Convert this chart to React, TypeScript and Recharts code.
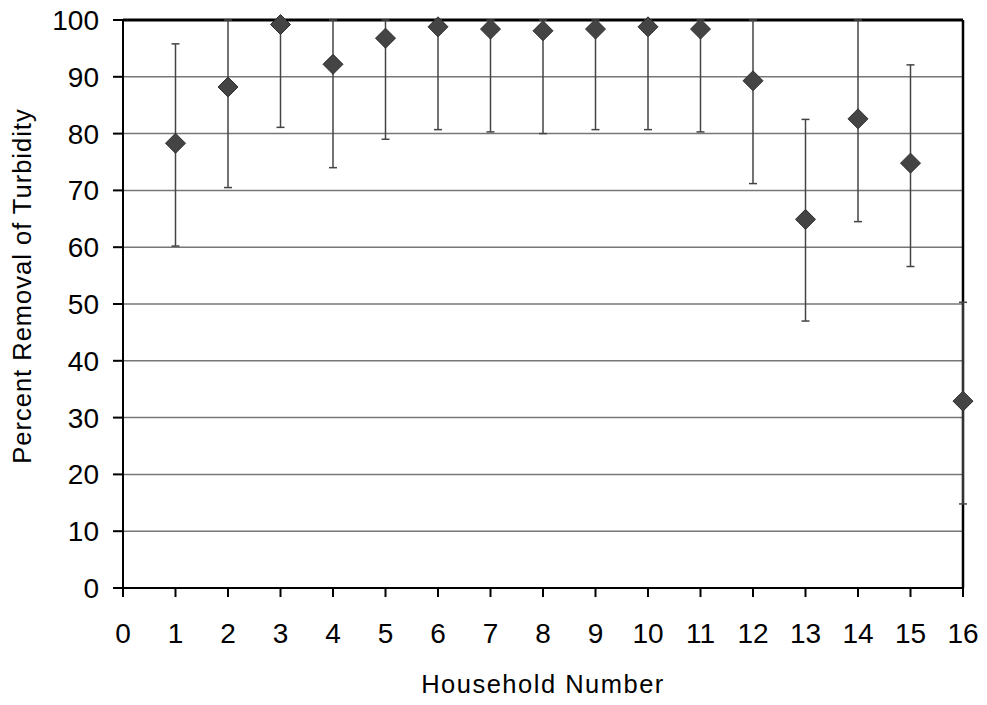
import { CartesianGrid, ErrorBar, ReferenceLine, Scatter, ScatterChart, XAxis, YAxis } from 'recharts'

const households = [1, 2, 3, 4, 5, 6, 7, 8, 9, 10, 11, 12, 13, 14, 15, 16]
const removal = [78.3, 88.2, 99.2, 92.2, 96.8, 98.8, 98.4, 98.1, 98.4, 98.8, 98.4, 89.3, 64.9, 82.6, 74.8, 32.9]
// lower / upper extent of the error bars as seen (upper ones are cut at 100)
const errLow = [18.1, 17.7, 18.1, 18.2, 17.8, 18.1, 18.1, 18.1, 17.7, 18.1, 18.1, 18.1, 17.9, 18.1, 18.2, 18.1]
const errHigh = [17.5, 11.8, 0.8, 7.8, 3.2, 1.2, 1.6, 1.9, 1.6, 1.2, 1.6, 10.7, 17.6, 17.4, 17.3, 17.4]
const xTicks = [0, 1, 2, 3, 4, 5, 6, 7, 8, 9, 10, 11, 12, 13, 14, 15, 16]
const yTicks = [0, 10, 20, 30, 40, 50, 60, 70, 80, 90, 100]

const FONT = '"Liberation Sans", Arial, sans-serif'

const data = households.map((h, i) => ({ h, v: removal[i], err: [errLow[i], errHigh[i]] }))

function Diamond(props: any) {
  const { cx, cy } = props
  const r = 10
  return (
    <polygon
      points={`${cx},${cy - r} ${cx + r},${cy} ${cx},${cy + r} ${cx - r},${cy}`}
      fill="#444"
      stroke="#2e2e2e"
      strokeWidth={1}
    />
  )
}

function XTitle(props: any) {
  const { viewBox } = props
  return (
    <text x={viewBox.x + viewBox.width / 2} y={693} textAnchor="middle" fontFamily={FONT} fontSize={25.5} letterSpacing={1.5} fill="#000">
      Household Number
    </text>
  )
}

function YTitle() {
  return (
    <text x={31} y={286} transform="rotate(-90 31 286)" textAnchor="middle" fontFamily={FONT} fontSize={25.5} letterSpacing={1} fill="#000">
      Percent Removal of Turbidity
    </text>
  )
}

export default function App() {
  return (
    <div style={{ position: 'absolute', left: 0, top: 0, background: '#fff' }}>
      <ScatterChart width={987} height={705} margin={{ top: 20, right: 24, bottom: 47, left: 0 }}>
        <CartesianGrid vertical={false} stroke="#777" strokeWidth={1.5} />
        <XAxis
          type="number"
          dataKey="h"
          domain={[0, 16]}
          ticks={xTicks}
          interval={0}
          height={70}
          tickSize={9}
          tickMargin={26}
          stroke="#000"
          strokeWidth={2}
          tick={{ fontFamily: FONT, fontSize: 28, fill: '#000' }}
          label={<XTitle />}
        />
        <YAxis
          type="number"
          dataKey="v"
          domain={[0, 100]}
          ticks={yTicks}
          interval={0}
          width={123}
          tickSize={10}
          tickMargin={14}
          stroke="#000"
          strokeWidth={2}
          tick={{ fontFamily: FONT, fontSize: 28, fill: '#000' }}
          label={<YTitle />}
        />
        <ReferenceLine y={100} stroke="#000" strokeWidth={3} />
        <ReferenceLine x={16} stroke="#000" strokeWidth={2.5} />
        <Scatter data={data} shape={<Diamond />} isAnimationActive={false}>
          <ErrorBar dataKey="err" direction="y" width={4} stroke="#444" strokeWidth={1.5} />
        </Scatter>
      </ScatterChart>
    </div>
  )
}
